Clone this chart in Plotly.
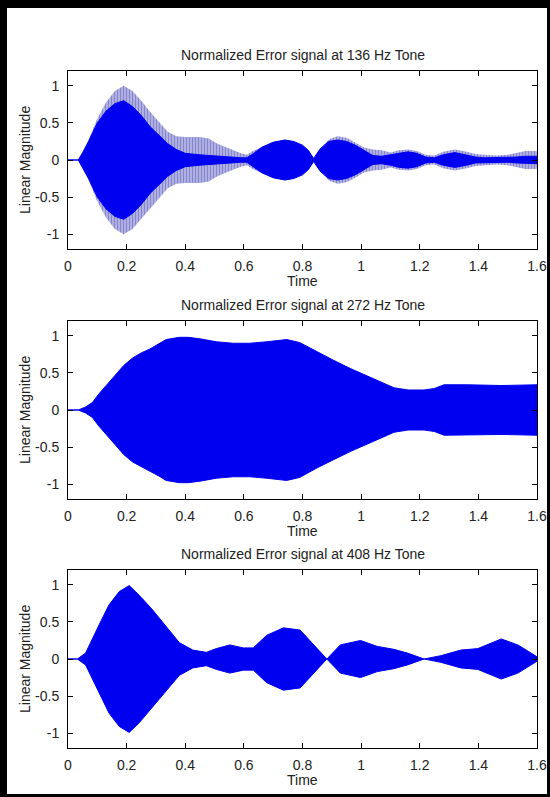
import numpy as np
import plotly.graph_objects as go

W, H = 550, 797

# --- Données (enveloppes des signaux) ----------------------------------------
# 136 Hz : enveloppe externe (hachurée) et cœur plein
t136 = [0.000, 0.035, 0.050, 0.070, 0.100, 0.130, 0.160, 0.190, 0.220, 0.250,
        0.280, 0.310, 0.340, 0.370, 0.400, 0.450, 0.480, 0.510, 0.550, 0.590,
        0.610, 0.630, 0.660, 0.700, 0.740, 0.770, 0.800, 0.820, 0.838, 0.860,
        0.890, 0.920, 0.950, 0.980, 1.010, 1.040, 1.070, 1.100, 1.130, 1.160,
        1.190, 1.220, 1.250, 1.280, 1.320, 1.360, 1.390, 1.420, 1.460, 1.500,
        1.530, 1.560, 1.600]
outer136 = [0.00, 0.00, 0.10, 0.27, 0.56, 0.78, 0.93, 1.00, 0.93, 0.80,
            0.65, 0.52, 0.38, 0.32, 0.31, 0.31, 0.29, 0.22, 0.15, 0.09,
            0.07, 0.12, 0.17, 0.24, 0.27, 0.25, 0.20, 0.13, 0.02, 0.15,
            0.28, 0.32, 0.30, 0.24, 0.17, 0.14, 0.13, 0.10, 0.13, 0.14,
            0.12, 0.07, 0.06, 0.11, 0.14, 0.11, 0.08, 0.07, 0.06, 0.07,
            0.10, 0.12, 0.12]
inner136 = [0.00, 0.00, 0.10, 0.25, 0.50, 0.66, 0.76, 0.80, 0.72, 0.60,
            0.45, 0.33, 0.22, 0.14, 0.09, 0.07, 0.06, 0.05, 0.04, 0.03,
            0.03, 0.08, 0.17, 0.24, 0.27, 0.25, 0.20, 0.13, 0.02, 0.15,
            0.25, 0.27, 0.25, 0.20, 0.13, 0.06, 0.05, 0.07, 0.10, 0.11,
            0.09, 0.04, 0.03, 0.07, 0.10, 0.07, 0.04, 0.03, 0.03, 0.03,
            0.04, 0.05, 0.05]

# 272 Hz
t272 = [0.000, 0.035, 0.060, 0.083, 0.106, 0.135, 0.163, 0.190, 0.220, 0.250,
        0.278, 0.310, 0.335, 0.380, 0.410, 0.450, 0.506, 0.563, 0.620, 0.678,
        0.746, 0.790, 0.850, 0.906, 0.963, 1.020, 1.078, 1.112, 1.160, 1.215,
        1.250, 1.283, 1.363, 1.480, 1.600]
env272 = [0.00, 0.00, 0.04, 0.10, 0.22, 0.35, 0.48, 0.60, 0.70, 0.77,
          0.82, 0.89, 0.95, 0.98, 0.98, 0.96, 0.92, 0.90, 0.90, 0.92,
          0.95, 0.91, 0.78, 0.67, 0.56, 0.46, 0.36, 0.30, 0.27, 0.27,
          0.29, 0.34, 0.34, 0.33, 0.34]

# 408 Hz
t408 = [0.000, 0.032, 0.060, 0.083, 0.106, 0.140, 0.175, 0.209, 0.243, 0.289,
        0.335, 0.380, 0.426, 0.472, 0.506, 0.552, 0.598, 0.632, 0.678, 0.735,
        0.792, 0.838, 0.883, 0.929, 0.998, 1.055, 1.112, 1.158, 1.215, 1.272,
        1.340, 1.398, 1.478, 1.535, 1.600]
env408 = [0.00, 0.00, 0.08, 0.26, 0.46, 0.73, 0.91, 0.99, 0.86, 0.66,
          0.43, 0.22, 0.12, 0.09, 0.14, 0.19, 0.15, 0.15, 0.32, 0.42,
          0.39, 0.19, 0.00, 0.19, 0.25, 0.17, 0.13, 0.08, 0.00, 0.045,
          0.12, 0.14, 0.27, 0.19, 0.03]

titles = ["Normalized Error signal at 136 Hz Tone",
          "Normalized Error signal at 272 Hz Tone",
          "Normalized Error signal at 408 Hz Tone"]
xticks = [0, 0.2, 0.4, 0.6, 0.8, 1.0, 1.2, 1.4, 1.6]
yticks = [-1, -0.5, 0, 0.5, 1]
yticktext = ["-1", "-0.5", "0", "0.5", "1"]

# --- Mise en page (pixels de l'image d'origine) ------------------------------
X0, X1 = 68, 537
PANELS = [(71, 249), (321, 499), (570, 748)]   # haut, bas de chaque axe
BLUE = "#0000f0"
FONT = dict(family="Liberation Sans, Arial, sans-serif", size=14, color="#222222")


def px(x):
    return x / W


def py(y):
    return 1 - y / H


def band(t, env):
    t = np.asarray(t, float)
    e = np.asarray(env, float)
    return np.concatenate([t, t[::-1]]), np.concatenate([e, -e[::-1]])


def label(text, x, y, **kw):
    fig.add_annotation(text=text, x=px(x), y=py(y), xref="paper", yref="paper",
                       xanchor="center", yanchor="middle", showarrow=False,
                       font=FONT, **kw)


fig = go.Figure()

series = [[(outer136, "pattern"), (inner136, "solid")],
          [(env272, "solid")],
          [(env408, "solid")]]
times = [t136, t272, t408]

for i, (top, bot) in enumerate(PANELS):
    k = "" if i == 0 else str(i + 1)
    for env, kind in series[i]:
        xs, ys = band(times[i], env)
        if kind == "pattern":
            fig.add_trace(go.Scatter(
                x=xs, y=ys, mode="lines", fill="toself",
                line=dict(width=0, color=BLUE),
                fillcolor="rgba(0,0,0,0)",
                fillpattern=dict(shape="|", fgcolor="#1818a0", bgcolor="#f4f4ff",
                                 size=3, solidity=0.75),
                xaxis="x" + k, yaxis="y" + k, hoverinfo="skip"))
        else:
            fig.add_trace(go.Scatter(
                x=xs, y=ys, mode="lines", fill="toself",
                line=dict(width=1, color=BLUE), fillcolor=BLUE,
                xaxis="x" + k, yaxis="y" + k, hoverinfo="skip"))

    common = dict(showgrid=False, zeroline=False, showline=True, linecolor="black",
                  linewidth=1, mirror="allticks", ticks="inside", ticklen=5,
                  tickcolor="black", tickfont=FONT, automargin=False)
    fig.layout["xaxis" + k] = dict(
        common, domain=[px(X0), px(X1)], range=[0, 1.6], tickvals=xticks,
        ticklabelstandoff=4, anchor="y" + k)
    fig.layout["yaxis" + k] = dict(
        common, domain=[py(bot), py(top)], range=[-1.2, 1.2], tickvals=yticks,
        ticktext=yticktext, ticklabelstandoff=5, anchor="x" + k)

    mid = (X0 + X1) / 2
    label(titles[i], mid, top - 16)
    label("Time", mid, bot + 32)
    label("Linear Magnitude", 25, (top + bot) / 2, textangle=-90)

# cadre noir autour de la figure
for x0, y0, x1, y1 in [(0, 0, W, 8), (0, 0, 7, H), (W - 3, 0, W, H), (0, H - 3, W, H)]:
    fig.add_shape(type="rect", xref="paper", yref="paper", x0=px(x0), x1=px(x1),
                  y0=py(y1), y1=py(y0), fillcolor="black", line=dict(width=0),
                  layer="above")

fig.update_layout(width=W, height=H, margin=dict(l=0, r=0, t=0, b=0, pad=0),
                  paper_bgcolor="white", plot_bgcolor="white", showlegend=False)

fig.write_html("out.html", config={"displayModeBar": False},
               post_script="document.body.style.margin='0';"
                           "document.body.style.overflow='hidden';")
